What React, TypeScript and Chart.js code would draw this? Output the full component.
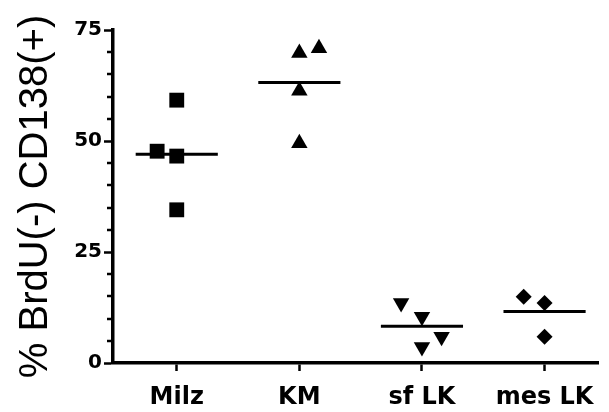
import React, { useEffect, useRef } from "react";
import { Chart, registerables } from "chart.js";

Chart.register(...registerables);

const categories = ["Milz", "KM", "sf LK", "mes LK"];
const milzValues = [59.2, 47.7, 46.6, 34.5];
const milzJitter = [0, -0.16, 0, 0];
const kmValues = [69.8, 70.9, 61.3, 49.5];
const kmJitter = [0, 0.16, 0, 0];
const sfLkValues = [13.5, 10.4, 5.9, 3.6];
const sfLkJitter = [-0.17, 0, 0.16, 0];
const mesLkValues = [14.9, 13.5, 5.9];
const mesLkJitter = [-0.17, 0, 0];
const meanValues = [47.0, 63.2, 8.3, 11.6];
const yMajorTicks = [0, 25, 50, 75];
const yMinorTicks = [5, 10, 15, 20, 30, 35, 40, 45, 55, 60, 65, 70];

const FONT = "'Liberation Sans', Arial, Helvetica, sans-serif";
const TICK_FONT = "'DejaVu Sans', 'Liberation Sans', sans-serif";

export default function App() {
  const ref = useRef<HTMLCanvasElement | null>(null);

  useEffect(() => {
    document.body.style.margin = "0";
    const canvas = ref.current;
    if (!canvas) return;

    const pts = (vals: number[], jit: number[], idx: number) =>
      vals.map((v, i) => ({ x: idx + jit[i], y: v }));

    const meanLines = meanValues.map((m, i) => ({
      type: "line" as const,
      data: [
        { x: i - 0.335, y: m },
        { x: i + 0.335, y: m },
      ],
      borderColor: "#000",
      borderWidth: 3,
      pointRadius: 0,
      showLine: true,
      fill: false,
    }));

    const minorTickPlugin = {
      id: "minorTicks",
      afterDraw(chart: any) {
        const y = chart.scales.y;
        const ctx = chart.ctx;
        const left = chart.chartArea.left;
        ctx.save();
        ctx.strokeStyle = "#000";
        ctx.lineWidth = 2.5;
        yMinorTicks.forEach((v) => {
          const py = Math.round(y.getPixelForValue(v));
          ctx.beginPath();
          ctx.moveTo(left - 6, py);
          ctx.lineTo(left, py);
          ctx.stroke();
        });
        ctx.restore();
      },
    };

    const chart = new Chart(canvas, {
      type: "scatter",
      data: {
        datasets: [
          {
            data: pts(milzValues, milzJitter, 0),
            pointStyle: "rect",
            pointRadius: 10.5,
            backgroundColor: "#000",
            borderColor: "#000",
            borderWidth: 0,
          },
          {
            data: pts(kmValues, kmJitter, 1),
            pointStyle: "triangle",
            pointRadius: 9.5,
            backgroundColor: "#000",
            borderColor: "#000",
            borderWidth: 0,
          },
          {
            data: pts(sfLkValues, sfLkJitter, 2),
            pointStyle: "triangle",
            rotation: 180,
            pointRadius: 9.5,
            backgroundColor: "#000",
            borderColor: "#000",
            borderWidth: 0,
          },
          {
            data: pts(mesLkValues, mesLkJitter, 3),
            pointStyle: "rectRot",
            pointRadius: 8,
            backgroundColor: "#000",
            borderColor: "#000",
            borderWidth: 0,
          },
          ...meanLines,
        ] as any,
      },
      options: {
        animation: false,
        responsive: false,
        maintainAspectRatio: false,
        clip: false as any,
        layout: { padding: { top: 30, right: 0, left: 0, bottom: 0 } },
        plugins: {
          legend: { display: false },
          tooltip: { enabled: false },
        },
        scales: {
          x: {
            type: "linear",
            min: -0.52,
            max: 3.44,
            afterBuildTicks: (scale: any) => {
              scale.ticks = categories.map((_, i) => ({ value: i }));
            },
            afterFit: (scale: any) => {
              scale.height = 49;
            },
            ticks: {
              callback: (v: any) => categories[Number(v)] ?? "",
              color: "#000",
              font: { family: TICK_FONT, size: 24, weight: "bold" },
              padding: 12,
              maxRotation: 0,
              autoSkip: false,
            },
            grid: {
              display: true,
              drawOnChartArea: false,
              drawTicks: true,
              tickLength: 8,
              tickWidth: 2.5,
              tickColor: "#000",
            },
            border: { display: true, color: "#000", width: 3.5 },
          },
          y: {
            min: 0,
            max: 75,
            afterBuildTicks: (scale: any) => {
              scale.ticks = yMajorTicks.map((v) => ({ value: v }));
            },
            afterFit: (scale: any) => {
              scale.width = 113;
            },
            ticks: {
              color: "#000",
              font: { family: TICK_FONT, size: 20, weight: "bold" },
              padding: 2,
            },
            grid: {
              display: true,
              drawOnChartArea: false,
              drawTicks: true,
              tickLength: 9,
              tickWidth: 2.5,
              tickColor: "#000",
            },
            border: { display: true, color: "#000", width: 3.5 },
            title: {
              display: true,
              text: "% BrdU(-) CD138(+)",
              color: "#000",
              font: { family: FONT, size: 40, weight: "normal", lineHeight: 1.2 },
              padding: { top: 12, bottom: 0 },
            },
          },
        },
      },
      plugins: [minorTickPlugin],
    } as any);

    return () => chart.destroy();
  }, []);

  return (
    <div style={{ width: 609, height: 412, position: "relative" }}>
      <canvas ref={ref} width={609} height={412} style={{ display: "block" }} />
    </div>
  );
}
